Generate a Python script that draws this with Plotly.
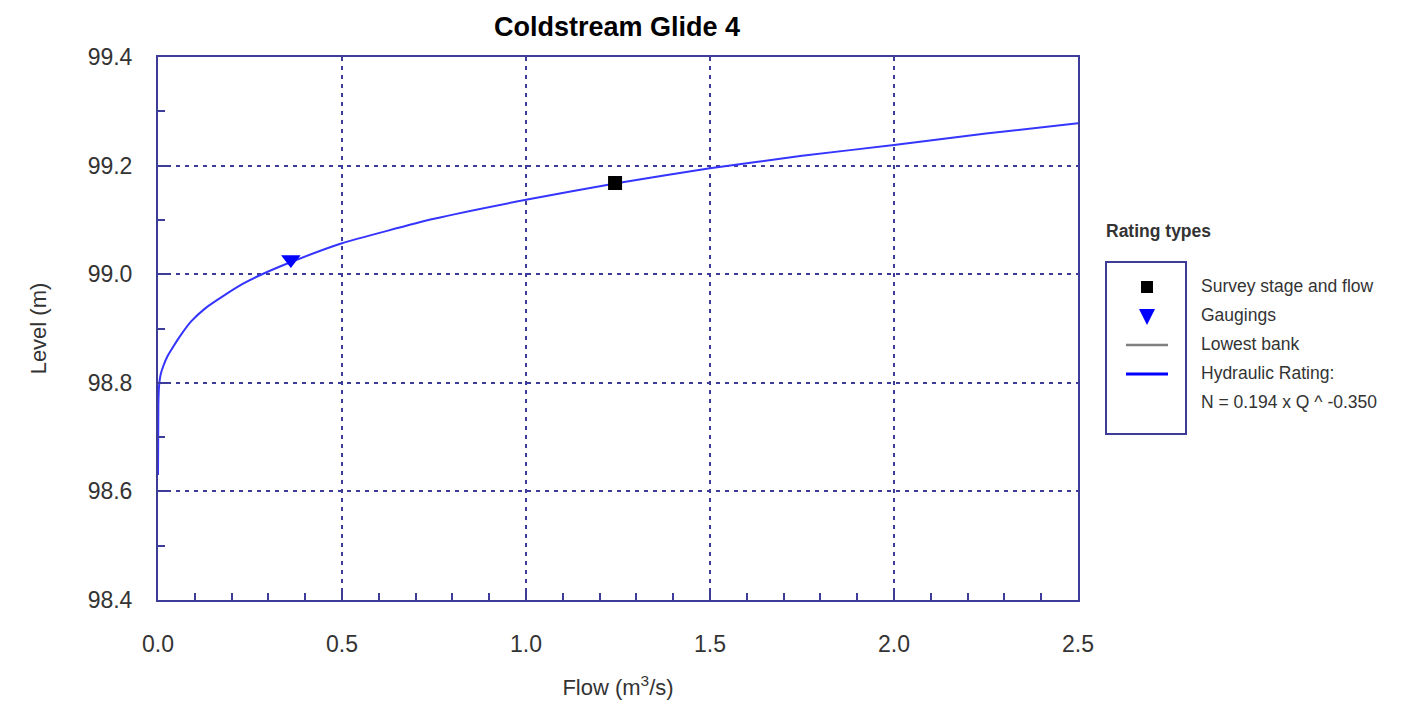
import plotly.graph_objects as go

# Hydraulic rating curve (flow m3/s, level m)
rating_flow = [0.0, 0.001, 0.003, 0.007, 0.014, 0.025, 0.04, 0.06, 0.09, 0.13, 0.18,
               0.23, 0.28, 0.36, 0.5, 0.75, 1.0, 1.25, 1.5, 1.75, 2.0, 2.25, 2.5]
rating_level = [98.63, 98.76, 98.795, 98.815, 98.83, 98.848, 98.865, 98.886, 98.913,
                98.938, 98.961, 98.982, 98.999, 99.022, 99.057, 99.102, 99.137,
                99.168, 99.195, 99.218, 99.238, 99.259, 99.278]

# Survey stage and flow
survey_flow = [1.242]
survey_level = [99.168]

# Gaugings
gauging_flow = [0.361]
gauging_level = [99.027]

legend_title = "Rating types"
legend_labels = ["Survey stage and flow", "Gaugings", "Lowest bank",
                 "Hydraulic Rating:", "N = 0.194 x Q ^ -0.350"]

NAVY = "#3d3d99"
CURVE = "#3535ff"
TEXT = "#333333"
FONT = "Liberation Sans, Arial, sans-serif"

W, H = 1412, 708
L, R, T, B = 158, 1078, 57, 600


def px(x):
    return (x - L) / (R - L)


def py(y):
    return (B - y) / (B - T)


fig = go.Figure()

fig.add_trace(go.Scatter(
    x=rating_flow, y=rating_level, mode="lines",
    line=dict(color=CURVE, width=2, shape="spline", smoothing=0.5),
    hoverinfo="skip", showlegend=False))

fig.add_trace(go.Scatter(
    x=survey_flow, y=survey_level, mode="markers",
    marker=dict(symbol="square", size=14, color="black"),
    showlegend=False))

fig.add_trace(go.Scatter(
    x=gauging_flow, y=gauging_level, mode="markers",
    marker=dict(symbol="triangle-down", size=17, color="blue"),
    showlegend=False))

axis_common = dict(
    showline=True, linecolor=NAVY, linewidth=2, mirror=True,
    showgrid=True, gridcolor=NAVY, gridwidth=2, griddash="4px,5px",
    zeroline=False, ticks="inside", ticklen=9, tickwidth=2, tickcolor=NAVY,
    tickfont=dict(family=FONT, size=23, color=TEXT),
    title_font=dict(family=FONT, size=22, color=TEXT),
)

fig.update_xaxes(
    range=[0, 2.5], tick0=0, dtick=0.5, tickformat=".1f",
    minor=dict(dtick=0.1, ticks="inside", ticklen=7, tickwidth=2, tickcolor=NAVY, showgrid=False),
    title_text="Flow (m<sup>3</sup>/s)", title_standoff=24,
    ticklabelstandoff=22,
    **axis_common)

fig.update_yaxes(
    range=[98.4, 99.4], tick0=98.4, dtick=0.2, tickformat=".1f",
    minor=dict(dtick=0.1, ticks="inside", ticklen=7, tickwidth=2, tickcolor=NAVY, showgrid=False),
    title_text="Level (m)", title_standoff=35,
    ticklabelstandoff=19,
    **axis_common)

shapes = []
annotations = []

# Legend frame
shapes.append(dict(type="rect", xref="paper", yref="paper",
                   x0=px(1106), x1=px(1186), y0=py(262), y1=py(434),
                   line=dict(color=NAVY, width=2), fillcolor="white", layer="above"))
# Square symbol
shapes.append(dict(type="rect", xref="paper", yref="paper",
                   x0=px(1141), x1=px(1153), y0=py(281), y1=py(293),
                   line=dict(width=0), fillcolor="black", layer="above"))
# Triangle symbol
shapes.append(dict(type="path", xref="paper", yref="paper",
                   path=f"M {px(1139)} {py(309)} L {px(1155)} {py(309)} L {px(1147)} {py(325)} Z",
                   line=dict(width=0), fillcolor="blue", layer="above"))
# Lowest bank line
shapes.append(dict(type="line", xref="paper", yref="paper",
                   x0=px(1126), x1=px(1168), y0=py(345), y1=py(345),
                   line=dict(color="#808080", width=2.5), layer="above"))
# Hydraulic rating line
shapes.append(dict(type="line", xref="paper", yref="paper",
                   x0=px(1126), x1=px(1168), y0=py(374), y1=py(374),
                   line=dict(color="blue", width=3), layer="above"))

annotations.append(dict(xref="paper", yref="paper", x=px(1104), y=py(231),
                        xanchor="left", yanchor="middle", showarrow=False,
                        text=f"<b>{legend_title}</b>",
                        font=dict(family=FONT, size=17.5, color=TEXT)))
for i, lab in enumerate(legend_labels):
    annotations.append(dict(xref="paper", yref="paper", x=px(1199), y=py(286 + 29 * i),
                            xanchor="left", yanchor="middle", showarrow=False,
                            text=lab, font=dict(family=FONT, size=17.5, color=TEXT)))

fig.update_layout(
    width=W, height=H,
    margin=dict(l=L, r=W - R, t=T, b=H - B),
    paper_bgcolor="white", plot_bgcolor="white",
    title=dict(text="<b>Coldstream Glide 4</b>", xref="paper", x=px(617), xanchor="center",
               yref="container", y=1 - 27 / H, yanchor="middle",
               font=dict(family=FONT, size=27, color="black")),
    shapes=shapes, annotations=annotations,
    showlegend=False,
)

fig.write_html("out.html")
